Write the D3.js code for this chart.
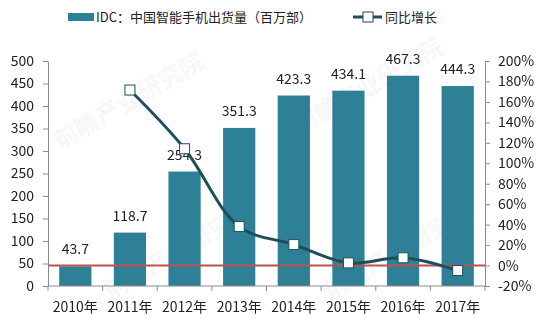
<!DOCTYPE html>
<html>
<head>
<meta charset="utf-8">
<script src="https://cdn.jsdelivr.net/npm/d3@7"></script>
<style>
  html, body { margin: 0; padding: 0; background: #fff; }
  svg text { font-family: "Microsoft YaHei", "Noto Sans CJK SC", sans-serif; fill: #222; }
</style>
</head>
<body>
<svg id="chart" width="539" height="325"></svg>
<script>
// Shipments of smartphones in China (IDC), millions of units, and YoY growth
const years = ["2010年", "2011年", "2012年", "2013年", "2014年", "2015年", "2016年", "2017年"];
const shipments = [43.7, 118.7, 254.3, 351.3, 423.3, 434.1, 467.3, 444.3];
const growth = [null, 171.6, 114.2, 38.1, 20.5, 2.6, 7.6, -4.9];
const leftTicks = [0, 50, 100, 150, 200, 250, 300, 350, 400, 450, 500];
const rightTicks = [-20, 0, 20, 40, 60, 80, 100, 120, 140, 160, 180, 200];
const barLegend = "IDC：中国智能手机出货量（百万部）";
const lineLegend = "同比增长";

const svg = d3.select("#chart");
const plotLeft = 48, plotRight = 485, plotTop = 61, plotBottom = 286;

const x = d3.scaleBand().domain(years).range([plotLeft, plotRight]).paddingInner(0.41).paddingOuter(0.205);
const xTick = d3.scaleBand().domain(years).range([plotLeft, plotRight]);
const y = d3.scaleLinear().domain([0, 500]).range([plotBottom, plotTop]);
const y2 = d3.scaleLinear().domain([-20, 200]).range([plotBottom, plotTop]);

const barColor = "#2e8096";
const lineColor = "#1d4f5b";
const axisColor = "#8c8c8c";
const fontStack = "\"Microsoft YaHei\", \"Noto Sans CJK SC\", sans-serif";

// faint diagonal watermark
const wm = svg.append("g").attr("opacity", 0.05);
[[60, 150], [300, 135], [110, 300], [330, 300]].forEach(([wx, wy]) => {
  wm.append("text").attr("x", wx).attr("y", wy)
    .attr("transform", `rotate(-30,${wx},${wy})`)
    .style("font-size", "24px").style("font-weight", "bold").style("fill", "#555")
    .text("前瞻产业研究院");
});

// bars
svg.append("g").selectAll("rect").data(years).join("rect")
  .attr("x", d => x(d))
  .attr("width", x.bandwidth())
  .attr("y", (d, i) => y(shipments[i]))
  .attr("height", (d, i) => y(0) - y(shipments[i]))
  .attr("fill", barColor);

// bar value labels
svg.append("g").selectAll("text").data(years).join("text")
  .attr("x", d => x(d) + x.bandwidth() / 2)
  .attr("y", (d, i) => y(shipments[i]) - 12)
  .attr("text-anchor", "middle")
  .style("font-size", "14px")
  .text((d, i) => shipments[i].toFixed(1));

// zero-growth reference line
svg.append("line")
  .attr("x1", plotLeft).attr("x2", plotRight)
  .attr("y1", y2(0)).attr("y2", y2(0))
  .attr("stroke", "#c0504d").attr("stroke-width", 2);

// growth line
const pts = years.map((d, i) => ({ d, v: growth[i] })).filter(p => p.v !== null);
svg.append("path")
  .datum(pts)
  .attr("fill", "none")
  .attr("stroke", lineColor)
  .attr("stroke-width", 3)
  .attr("d", d3.line()
    .x(p => x(p.d) + x.bandwidth() / 2)
    .y(p => y2(p.v))
    .curve(d3.curveCatmullRom.alpha(0.5)));

svg.append("g").selectAll("rect").data(pts).join("rect")
  .attr("x", p => x(p.d) + x.bandwidth() / 2 - 5)
  .attr("y", p => y2(p.v) - 5)
  .attr("width", 10).attr("height", 10)
  .attr("fill", "#fff").attr("stroke", lineColor).attr("stroke-width", 1);

// axes
function styleAxis(g) {
  g.selectAll("path, line").attr("stroke", axisColor);
  g.selectAll("text").style("font-size", "14px").style("fill", "#222").style("font-family", fontStack);
}

svg.append("g").attr("transform", `translate(${plotLeft},0)`)
  .call(d3.axisLeft(y).tickValues(leftTicks).tickSize(5).tickSizeOuter(0).tickPadding(9))
  .call(styleAxis);

svg.append("g").attr("transform", `translate(${plotRight},0)`)
  .call(d3.axisRight(y2).tickValues(rightTicks).tickFormat(d => d + "%").tickSize(5).tickSizeOuter(0).tickPadding(8))
  .call(styleAxis);

const xa = svg.append("g").attr("transform", `translate(0,${plotBottom})`);
xa.append("line").attr("x1", plotLeft).attr("x2", plotRight).attr("stroke", axisColor);
xa.selectAll(".tk").data(d3.range(years.length + 1)).join("line")
  .attr("x1", i => plotLeft + i * xTick.step()).attr("x2", i => plotLeft + i * xTick.step())
  .attr("y1", 0).attr("y2", 5).attr("stroke", axisColor);
xa.selectAll("text").data(years).join("text")
  .attr("x", d => xTick(d) + xTick.bandwidth() / 2)
  .attr("y", 26)
  .attr("text-anchor", "middle")
  .style("font-size", "14px")
  .text(d => d);

// legend
const lg = svg.append("g");
lg.append("rect").attr("x", 68).attr("y", 13).attr("width", 26).attr("height", 8).attr("fill", barColor);
lg.append("text").attr("x", 96).attr("y", 22).style("font-size", "13px").text(barLegend);
lg.append("line").attr("x1", 353).attr("x2", 382).attr("y1", 17).attr("y2", 17)
  .attr("stroke", lineColor).attr("stroke-width", 3);
lg.append("rect").attr("x", 363).attr("y", 12).attr("width", 10).attr("height", 10)
  .attr("fill", "#fff").attr("stroke", lineColor).attr("stroke-width", 1);
lg.append("text").attr("x", 385).attr("y", 22).style("font-size", "13px").text(lineLegend);
</script>
</body>
</html>
